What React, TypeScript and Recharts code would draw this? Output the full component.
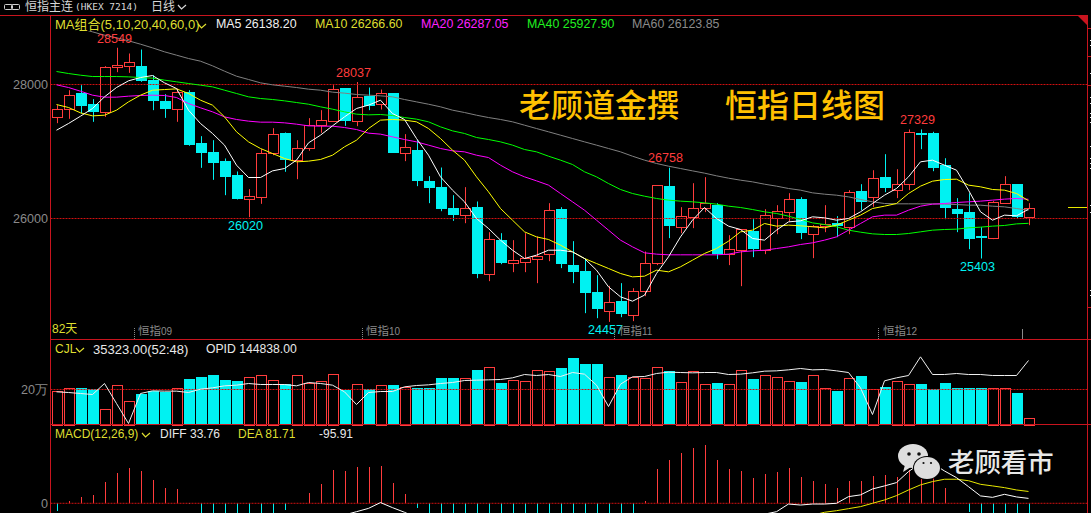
import { Bar, ComposedChart, Line, ReferenceLine, XAxis, YAxis } from "recharts";

const opens = [27522,27627,27871,27706,27592,28254,28279,28274,28065,27751,27637,27886,27124,26990,26856,26647,26284,26328,26980,27274,26876,27055,27398,27448,27945,27458,
  27831,27706,27866,26980,27020,26557,26468,26154,26055,26169,25174,25677,25338,25353,25398,25473,26139,25304,25214,24901,24622,24766,24562,24911,25333,26483,25876,26025,26164,26199,25468,25537,25811,25537,26010,26100,26289,25771,25891,25930,25876,26408,26323,26617,26428,26517,27274,27274,26796,26139,26095,25736,25711,26234,26512,26025];
const closes = [27627,27846,27682,27592,28254,28284,28343,28055,27756,27637,27881,27100,26980,26831,26622,26294,26343,26985,27254,26876,27045,27403,27463,27940,27458,27821,
  27682,27876,26980,27060,26562,26453,26139,26050,26164,25174,25687,25333,25388,25408,25443,26134,25318,25199,24886,24647,24761,24572,24911,25343,26493,25886,26030,26164,26224,25468,25552,25841,25542,26050,26119,26284,25781,25886,25925,25886,26403,26244,26612,26453,26522,27284,27244,26751,26154,26065,25692,25711,26244,26522,26020,26164];
const highs = [27692,27915,27990,27781,28274,28549,28463,28522,28139,27856,27940,27915,27229,27169,26896,26702,26438,27035,27348,27284,27169,27498,27617,27990,27945,28037,
  27955,27925,27866,27259,27169,26632,26761,26348,26468,26254,25796,25781,25677,25781,25731,26229,26169,25662,25403,25154,24995,25035,24960,25508,26493,26758,26169,26527,26617,26229,25751,25841,25990,26139,26199,26378,26318,25901,26199,26035,26423,26512,26721,26960,26736,27329,27329,27294,26900,26304,26378,25871,26259,26632,26512,26229];
const lows = [27423,27488,27567,27443,27517,28184,28174,28040,27617,27502,27443,27085,26756,26577,26348,26284,26020,26219,26945,26697,26587,27010,27279,27443,27383,27378,
  27617,27627,26980,26856,26483,26229,26109,25965,25930,25109,25065,25318,25199,25199,25035,25363,25259,25035,24587,24512,24457,24527,24468,24841,25304,25707,25781,25856,26095,25393,25304,24990,25423,25468,25766,25960,25692,25408,25796,25721,25766,26124,26174,26393,26304,26423,27035,26706,25990,25796,25542,25403,25692,26229,26000,25900];

const ma5 = [27318,27418,27527,27642,27816,27955,28055,28104,28134,28025,27940,27617,27418,27269,27095,26796,26612,26612,26711,26746,26871,27129,27244,27383,27517,27642,
  27692,27766,27567,27478,27194,26945,26622,26423,26249,26000,25851,25677,25527,25403,25453,25527,25527,25502,25403,25229,24980,24831,24766,24856,25179,25428,25726,25975,26164,26000,25886,
  25836,25702,25677,25826,25950,25965,26025,26010,25975,26000,26100,26224,26348,26448,26622,26846,26871,26796,26721,26423,26100,25975,26050,26040,26138];
const ma10 = [27701,27657,27577,27532,27542,27617,27741,27841,27915,27925,27935,27866,27766,27692,27517,27294,27144,27045,26970,26896,26846,26856,26881,26945,27070,27169,
  27343,27468,27478,27468,27443,27343,27194,27020,26871,26622,26398,26149,25975,25801,25726,25687,25602,25502,25403,25328,25254,25179,25129,25139,25229,25204,25279,25378,25478,25552,25662,
  25801,25826,25925,25886,25901,25891,25876,25861,25901,25975,26050,26149,26184,26224,26373,26483,26557,26582,26587,26498,26473,26433,26423,26373,26266];
const ma20 = [27995,27955,27900,27841,27811,27811,27826,27836,27841,27836,27806,27716,27652,27592,27517,27478,27453,27438,27438,27428,27408,27383,27378,27378,27358,27328,
  27274,27259,27219,27179,27144,27095,27045,27010,26995,26945,26910,26796,26697,26622,26562,26498,26373,26249,26124,25975,25826,25677,25577,25488,25468,25458,25458,25458,25458,25458,25468,
  25502,25517,25527,25552,25577,25612,25637,25677,25726,25826,25925,26025,26050,26050,26124,26184,26214,26224,26239,26249,26259,26274,26289,26299,26287];
const ma40 = [28194,28164,28139,28119,28119,28119,28114,28104,28095,28065,28040,28015,27990,27965,27915,27866,27816,27791,27776,27756,27731,27706,27667,27632,27592,27557,
  27547,27552,27537,27507,27483,27443,27368,27308,27269,27209,27179,27144,27095,27030,26995,26930,26871,26806,26697,26622,26522,26433,26373,26333,26299,26274,26259,26249,26234,26214,26184,
  26164,26134,26100,26075,26035,25985,25935,25910,25876,25826,25796,25771,25761,25761,25776,25801,25826,25836,25841,25861,25871,25886,25896,25920,25928];
const ma60 = [28920,28886,28836,28786,28736,28697,28652,28602,28547,28488,28438,28388,28348,28279,28199,28124,28075,28025,27995,27975,27955,27930,27915,27886,27871,27851,
  27841,27831,27816,27776,27741,27706,27667,27617,27582,27542,27507,27478,27443,27393,27343,27294,27244,27194,27144,27095,27045,26995,26930,26871,26821,26781,26746,26711,26677,26637,26602,
  26572,26547,26512,26483,26448,26423,26383,26363,26348,26323,26284,26249,26224,26219,26219,26219,26219,26214,26209,26199,26199,26184,26174,26149,26124];

// volume in 万
const volumes = [18.9,21.1,20.8,20.2,9.1,22.3,13.7,17.3,19.4,18.7,21.1,25.9,27.1,28.2,25.3,24.8,27.4,28.0,25.7,22.9,28.0,23.8,24.6,28.6,19.6,23.4,
  20.2,22.3,22.5,21.5,20.8,20.8,26.5,26.5,26.3,31.1,32.6,23.6,25.7,25.1,31.4,30.3,32.2,37.9,34.5,34.5,27.4,28.2,26.9,26.3,33.1,30.5,24.0,30.3,23.4,23.6,23.4,
  30.9,25.9,28.0,26.9,24.6,24.2,28.0,21.1,19.0,26.3,27.6,20.0,21.3,24.6,22.9,23.1,20.2,23.6,20.8,20.8,20.8,20.6,21.1,17.9,3.5];
const openInterest = [135438,135238,134938,134638,137938,131938,125938,134938,135738,135638,135638,135238,136238,136638,137238,137438,137938,137638,137638,137638,137238,138238,137938,137438,135438,131638,
  135238,135538,135538,136938,137338,137538,137938,138238,138838,138938,139038,139138,139638,140638,140338,140638,140038,141238,140738,137438,131038,137738,139938,140038,140938,141338,141238,141138,141238,141238,140638,
  140738,141138,141638,141738,142038,142438,142038,142138,141738,141238,136638,128638,138738,139638,140338,145938,140638,140638,140938,140638,140638,140338,140338,140338,144838];

const macdHist = [-51,16,44,58,147,209,244,223,161,106,99,-5,-100,-150,-180,-200,-180,-150,-100,-46,0,71,133,230,223,251,
  251,258,140,64,-32,-120,-200,-240,-260,-320,-320,-320,-300,-280,-260,-160,-120,-120,-140,-160,-180,-160,-90,16,237,299,347,382,403,299,237,
  223,175,202,216,244,182,154,133,106,154,154,189,196,182,230,240,240,106,0,-60,-90,-90,-80,-90,-95.91];
const diff = [-160,-150,-130,-110,-95,-80,-75,-80,-90,-110,-130,-160,-190,-220,-250,-270,-280,-260,-230,-210,-200,-170,-130,-100,-80,-58,
  -35,5,-30,-62,-100,-160,-230,-290,-340,-420,-470,-520,-550,-570,-580,-550,-540,-550,-570,-600,-620,-620,-590,-520,-390,-300,-230,-170,-120,-110,-100,
  -90,-85,-75,-58,-5,-12,-5,-5,0,46,58,99,120,143,219,276,276,223,177,115,51,41,62,44,33.76];
const dea = [-135,-158,-152,-139,-163,-175,-182,-181,-170,-163,-180,-158,-140,-145,-160,-170,-190,-185,-180,-187,-200,-205,-197,-215,-191,-183,
  -160,-124,-100,-94,-84,-100,-130,-170,-210,-260,-310,-360,-400,-430,-450,-470,-480,-490,-500,-520,-530,-540,-545,-528,-508,-450,-403,-361,-321,-259,-218,
  -201,-172,-176,-166,-127,-103,-82,-62,-51,-37,-23,0,23,53,92,127,150,166,166,156,131,120,108,92,81.71];

const rows = opens.map((open, i) => ({
  day: i,
  open,
  close: closes[i],
  high: highs[i],
  low: lows[i],
  ma5: ma5[i],
  ma10: ma10[i],
  ma20: ma20[i],
  ma40: ma40[i],
  ma60: ma60[i],
  vol: volumes[i],
  oi: openInterest[i],
  hist: macdHist[i],
  diff: diff[i],
  dea: dea[i],
}));

const UP = "#ff3c3c";
const DOWN = "#00f2f2";
const BORDER = "#c8141e";
const DOTTED = "#d01010";
const YELLOW = "#dede30";
const GREY = "#8a8a8a";
const TICK = { fill: GREY, fontSize: 12.6, fontFamily: "Liberation Sans" };
const FONT = "'Liberation Sans','Noto Sans CJK SC',sans-serif";

function Candle(props: any) {
  const { x, y, width, height, payload } = props;
  const perUnit = Math.abs(height) / (payload.high - payload.low);
  const cx = Math.round(x + width / 2 - 0.5) + 0.5;
  const toY = (v: number) => y + (payload.high - v) * perUnit;
  const top = Math.round(toY(Math.max(payload.open, payload.close)));
  const bottom = Math.round(toY(Math.min(payload.open, payload.close)));
  const up = payload.close >= payload.open;
  const color = up ? UP : DOWN;
  return (
    <g>
      <line x1={cx} x2={cx} y1={y} y2={y + Math.abs(height)} stroke={color} strokeWidth={1} />
      {up ? (
        <rect x={cx - 5} y={top + 0.5} width={10} height={Math.max(bottom - top, 1)} fill="#000" stroke={color} strokeWidth={1} />
      ) : (
        <rect x={cx - 5.5} y={top} width={11} height={Math.max(bottom - top, 1)} fill={color} />
      )}
    </g>
  );
}

function VolumeBar(props: any) {
  const { x, y, width, height, payload } = props;
  const cx = Math.round(x + width / 2 - 0.5) + 0.5;
  const top = Math.round(y);
  const up = payload.close >= payload.open;
  if (up) {
    return <rect x={cx - 5} y={top + 0.5} width={10} height={Math.round(y + height) - top} fill="none" stroke={UP} strokeWidth={1} />;
  }
  return <rect x={cx - 5.5} y={top} width={11} height={Math.round(y + height) - top} fill={DOWN} />;
}

function HistBar(props: any) {
  const { x, y, width, height, payload } = props;
  const cx = Math.round(x + width / 2 - 0.5) + 0.5;
  const y1 = Math.min(y, y + height);
  const y2 = Math.max(y, y + height);
  return <rect x={cx - 0.5} y={Math.round(y1)} width={1} height={Math.max(Math.round(y2) - Math.round(y1), 0)} fill={payload.hist >= 0 ? UP : DOWN} />;
}

function Txt({ x, y, color, size = 12, font = FONT, weight, children }: any) {
  return (
    <div style={{ position: "absolute", left: x, top: y, color, fontSize: size, fontFamily: font, fontWeight: weight, lineHeight: `${size + 2}px`, whiteSpace: "pre" }}>
      {children}
    </div>
  );
}

function Chevron({ x, y, color }: any) {
  return (
    <svg style={{ position: "absolute", left: x, top: y }} width={10} height={7}>
      <polyline points="1,1 4.5,5 9,1" fill="none" stroke={color} strokeWidth={1.2} />
    </svg>
  );
}

function Rule({ x, y, w, h, color = BORDER }: any) {
  return <div style={{ position: "absolute", left: x, top: y, width: w, height: h, background: color }} />;
}

function Period({ x, dots, month }: any) {
  return (
    <>
      <div style={{ position: "absolute", left: dots, top: 328, height: 11, borderLeft: `1px dotted ${GREY}` }} />
      <Txt x={x} y={325} color={GREY} size={11.5}>
        恒指<span style={{ fontSize: 10 }}>{month}</span>
      </Txt>
    </>
  );
}

const xAxis = <XAxis dataKey="day" type="category" hide padding={{ left: 0, right: 54 }} />;

export default function App() {
  return (
    <div style={{ position: "absolute", left: 0, top: 0, width: 1091, height: 513, background: "#000", overflow: "hidden" }}>
      {/* price panel */}
      <div style={{ position: "absolute", left: 0, top: 0 }}>
        <ComposedChart width={1091} height={340} data={rows} margin={{ top: 15.5, right: 2.5, bottom: 0.5, left: 0 }} barSize={11}>
          {xAxis}
          <YAxis width={50.5} domain={[24194, 29030]} ticks={[26000, 28000]} tick={TICK} tickLine={false} tickSize={0} tickMargin={2.5} axisLine={false} />
          <ReferenceLine y={28000} stroke={DOTTED} strokeDasharray="2 1" />
          <ReferenceLine y={26000} stroke={DOTTED} strokeDasharray="2 1" />
          <Bar dataKey={(r: any) => [r.low, r.high]} shape={<Candle />} isAnimationActive={false} />
          <Line dataKey="ma60" stroke="#808080" strokeWidth={1} dot={false} isAnimationActive={false} />
          <Line dataKey="ma40" stroke="#00ff00" strokeWidth={1} dot={false} isAnimationActive={false} />
          <Line dataKey="ma20" stroke="#ff00ff" strokeWidth={1} dot={false} isAnimationActive={false} />
          <Line dataKey="ma10" stroke="#ffff00" strokeWidth={1} dot={false} isAnimationActive={false} />
          <Line dataKey="ma5" stroke="#ffffff" strokeWidth={1} dot={false} isAnimationActive={false} />
        </ComposedChart>
      </div>

      {/* volume panel */}
      <div style={{ position: "absolute", left: 0, top: 0 }}>
        <ComposedChart width={1091} height={513} data={rows} margin={{ top: 339.5, right: 2.5, bottom: 88.5, left: 0 }} barSize={11}>
          {xAxis}
          <YAxis yAxisId="vol" width={50.5} domain={[0, 48.57]} ticks={[20]} tickFormatter={(v: number) => `${v}万`} tick={TICK} tickLine={false} tickSize={0} tickMargin={2.5} axisLine={false} />
          <YAxis yAxisId="oi" orientation="right" hide domain={[125638, 151138]} />
          <ReferenceLine yAxisId="vol" y={20} stroke={DOTTED} strokeDasharray="2 1" />
          <Bar yAxisId="vol" dataKey="vol" shape={<VolumeBar />} isAnimationActive={false} />
          <Line yAxisId="oi" dataKey="oi" stroke="#f0f0f0" strokeWidth={1} dot={false} isAnimationActive={false} />
        </ComposedChart>
      </div>

      {/* macd panel */}
      <div style={{ position: "absolute", left: 0, top: 0 }}>
        <ComposedChart width={1091} height={513} data={rows} margin={{ top: 424.5, right: 2.5, bottom: 0, left: 0 }} barSize={1}>
          {xAxis}
          <YAxis width={50.5} domain={[-67, 544]} allowDataOverflow ticks={[0]} tick={TICK} tickLine={false} tickSize={0} tickMargin={2.5} axisLine={false} />
          <ReferenceLine y={0} stroke={DOTTED} strokeDasharray="2 1" />
          <Bar dataKey="hist" shape={<HistBar />} isAnimationActive={false} />
          <Line dataKey="dea" stroke="#e8e800" strokeWidth={1} dot={false} isAnimationActive={false} />
          <Line dataKey="diff" stroke="#ffffff" strokeWidth={1} dot={false} isAnimationActive={false} />
        </ComposedChart>
      </div>

      {/* ma legend, opaque so the long MA hides under it */}
      <div style={{ position: "absolute", left: 51, top: 16, width: 1036, height: 15, background: "#000" }} />

      {/* frame */}
      <Rule x={0} y={15} w={1088} h={1} />
      <Rule x={50} y={15} w={1} h={498} />
      <Rule x={1087} y={15} w={1} h={498} />
      <Rule x={50} y={339} w={1041} h={1} />
      <Rule x={50} y={424} w={1041} h={1} />
      <svg style={{ position: "absolute", left: 1078, top: 16 }} width={10} height={10}>
        <polygon points="0,0 10,0 10,10" fill={BORDER} />
      </svg>

      {/* scale marks outside the right border */}
      {[28, 56, 85, 307].map((y) => (
        <Rule key={y} x={1088} y={y} w={3} h={1} />
      ))}
      {[40, 45, 73, 97, 103, 113, 117, 122, 146, 158, 163, 168, 205, 212, 290, 295].map((y) => (
        <Rule key={y} x={1090} y={y} w={1} h={1} color="#e8e8e8" />
      ))}

      {/* header */}
      <svg style={{ position: "absolute", left: 3, top: 3 }} width={18} height={9}>
        <rect x={1.5} y={1.5} width={8} height={5} rx={1} fill="none" stroke="#cfcfcf" />
        <rect x={8.5} y={1.5} width={8} height={5} rx={1} fill="none" stroke="#cfcfcf" />
      </svg>
      <Txt x={25} y={0} color="#d8d8d8">恒指主连</Txt>
      <Txt x={75} y={1} color="#d8d8d8" size={9.5} font="'DejaVu Sans Mono',monospace">(HKEX 7214)</Txt>
      <Txt x={151} y={0} color="#d8d8d8">日线</Txt>
      <Chevron x={177} y={4} color="#d8d8d8" />

      <Txt x={55} y={17} color={YELLOW} size={13}>MA组合(5,10,20,40,60,0)</Txt>
      <Chevron x={197} y={23} color={YELLOW} />
      <Txt x={216} y={17} color="#f0f0f0" size={12.4}>MA5 26138.20</Txt>
      <Txt x={315} y={17} color={YELLOW} size={12.4}>MA10 26266.60</Txt>
      <Txt x={421} y={17} color="#ff20ff" size={12.4}>MA20 26287.05</Txt>
      <Txt x={527} y={17} color="#20f020" size={12.4}>MA40 25927.90</Txt>
      <Txt x={632} y={17} color={GREY} size={12.4}>MA60 26123.85</Txt>

      {/* peak and trough labels */}
      <Txt x={97} y={32} color={UP} size={12.6}>28549</Txt>
      <Txt x={336} y={66} color={UP} size={12.6}>28037</Txt>
      <Txt x={648} y={151} color={UP} size={12.6}>26758</Txt>
      <Txt x={900} y={113} color={UP} size={12.6}>27329</Txt>
      <Txt x={228} y={219} color={DOWN} size={12.6}>26020</Txt>
      <Txt x={588} y={323} color={DOWN} size={12.6}>24457</Txt>
      <Txt x={960} y={260} color={DOWN} size={12.6}>25403</Txt>

      {/* period marks */}
      <Txt x={52} y={322} color={YELLOW}>82天</Txt>
      <Period x={138} dots={134} month="09" />
      <Period x={366} dots={362} month="10" />
      <Period x={619} dots={614} month="11" />
      <Period x={883} dots={878} month="12" />
      <Rule x={1022} y={329} w={1} h={10} color={GREY} />

      {/* sub panel legends */}
      <Txt x={55} y={342} color={YELLOW}>CJL</Txt>
      <Chevron x={75} y={347} color={YELLOW} />
      <Txt x={93} y={342} color="#e8e8e8" size={13}>35323.00(52:48)</Txt>
      <Txt x={206} y={342} color="#e8e8e8" size={12.2}>OPID 144838.00</Txt>
      <Txt x={55} y={427} color={YELLOW}>MACD(12,26,9)</Txt>
      <Chevron x={141} y={432} color={YELLOW} />
      <Txt x={160} y={427} color="#e8e8e8">DIFF 33.76</Txt>
      <Txt x={238} y={427} color={YELLOW}>DEA 81.71</Txt>
      <Txt x={319} y={427} color="#e8e8e8">-95.91</Txt>

      {/* stamped captions */}
      <Txt x={519} y={89} color="#ffc000" size={32} weight={500}>老顾道金撰</Txt>
      <Txt x={725} y={89} color="#ffc000" size={32} weight={500}>恒指日线图</Txt>
      <svg style={{ position: "absolute", left: 896, top: 441 }} width={50} height={40}>
        <ellipse cx={17} cy={15} rx={15} ry={12} fill="#dedede" />
        <polygon points="9,24 7,31 15,26" fill="#dedede" />
        <ellipse cx={31} cy={27} rx={14} ry={12} fill="#000" />
        <ellipse cx={31} cy={27} rx={13} ry={11} fill="#dedede" />
        <circle cx={13} cy={13} r={1.8} fill="#111" />
        <circle cx={23} cy={13} r={1.8} fill="#111" />
        <circle cx={27.5} cy={22} r={1.1} fill="#111" />
        <circle cx={35} cy={22} r={1.1} fill="#111" />
      </svg>
      <Txt x={948} y={449} color="#e8e8e8" size={26.4} weight={500}>老顾看市</Txt>

      {/* stub of the last value */}
      <Rule x={1068} y={207} w={19} h={1} color="#e8e800" />
    </div>
  );
}
